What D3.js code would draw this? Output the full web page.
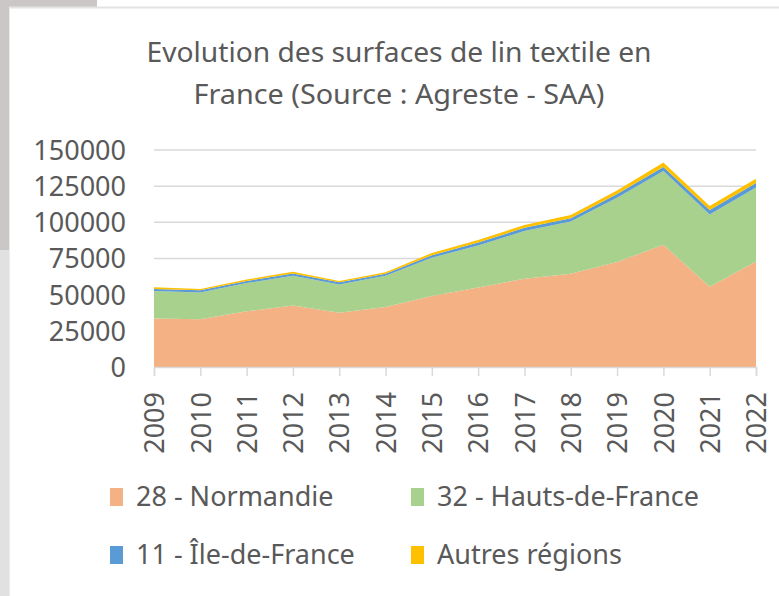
<!DOCTYPE html>
<html>
<head>
<meta charset="utf-8">
<script src="https://cdn.jsdelivr.net/npm/d3@7"></script>
<style>
  body { margin: 0; background: #fff; }
  svg { display: block; }
  text { font-family: "Noto Sans", "Open Sans", sans-serif; fill: #595959; }
</style>
</head>
<body>
<div id="chart"></div>
<script>
// surfaces de lin textile (ha)
var years = [2009, 2010, 2011, 2012, 2013, 2014, 2015, 2016, 2017, 2018, 2019, 2020, 2021, 2022];
var normandie = [33500, 33000, 38500, 42500, 37500, 41500, 49000, 55000, 61000, 64500, 72500, 84500, 55500, 73000];
var hautsDeFrance = [19000, 18500, 19500, 20500, 19500, 21500, 26500, 29000, 33000, 36000, 44500, 51000, 50000, 51000];
var ileDeFrance = [1500, 1500, 1500, 1700, 1500, 1500, 1800, 2000, 2200, 2300, 2500, 2800, 3000, 3200];
var autres = [1200, 1000, 1000, 1200, 1000, 1000, 1500, 1800, 2000, 2200, 2500, 3000, 2800, 3000];
var yTicks = [0, 25000, 50000, 75000, 100000, 125000, 150000];
var seriesNames = ["28 - Normandie", "32 - Hauts-de-France", "11 - Île-de-France", "Autres régions"];
var colors = ["#F4B183", "#A9D18E", "#5B9BD5", "#FFC000"];
var titleLines = ["Evolution des surfaces de lin textile en", "France (Source : Agreste - SAA)"];

var W = 779, H = 596;
var margin = {top: 150, right: 23, bottom: 229, left: 154};
var width = W - margin.left - margin.right,
    height = H - margin.top - margin.bottom;

var svg = d3.select("#chart").append("svg")
    .attr("width", W)
    .attr("height", H);

// bits of the screenshot frame round the chart
svg.append("rect").attr("x", 0).attr("y", 0).attr("width", 9).attr("height", 250).attr("fill", "#cbc7c7");
svg.append("rect").attr("x", 0).attr("y", 250).attr("width", 9).attr("height", H - 250).attr("fill", "#e2e1e1");
svg.append("rect").attr("x", 0).attr("y", 0).attr("width", 97).attr("height", 7).attr("fill", "#cbc7c7");
svg.append("line").attr("x1", 9).attr("x2", W).attr("y1", 7.5).attr("y2", 7.5).attr("stroke", "#e3e3e3").attr("stroke-width", 2);
svg.append("line").attr("x1", 9.5).attr("x2", 9.5).attr("y1", 7).attr("y2", H).attr("stroke", "#ececec").attr("stroke-width", 1);

// title
svg.selectAll(".title")
    .data(titleLines)
  .enter().append("text")
    .attr("class", "title")
    .attr("x", 399)
    .attr("y", function(d, i) { return 62 + i * 42; })
    .attr("text-anchor", "middle")
    .attr("font-size", 27)
    .attr("textLength", function(d, i) { return i == 0 ? 505 : 411; })
    .attr("lengthAdjust", "spacingAndGlyphs")
    .text(function(d) { return d; });

var g = svg.append("g")
    .attr("transform", "translate(" + margin.left + "," + margin.top + ")");

var x = d3.scalePoint()
    .domain(years)
    .range([0, width]);

var y = d3.scaleLinear()
    .domain([0, 150000])
    .range([height, 0]);

// gridlines
g.selectAll(".grid")
    .data(yTicks)
  .enter().append("line")
    .attr("x1", 0)
    .attr("x2", width)
    .attr("y1", function(d) { return y(d); })
    .attr("y2", function(d) { return y(d); })
    .attr("stroke", "#d9d9d9")
    .attr("stroke-width", 1.5);

// y axis labels
var yAxis = g.append("g")
    .attr("transform", "translate(-25,0)")
    .call(d3.axisLeft(y).tickValues(yTicks).tickFormat(d3.format("d")).tickSize(0));
yAxis.select(".domain").remove();
yAxis.selectAll("text")
    .attr("font-family", null)
    .attr("font-size", 27)
    .attr("fill", "#595959")
    .attr("dy", "0.35em");

// stacked areas
var rows = years.map(function(yr, i) {
  return {year: yr, n: normandie[i], h: hautsDeFrance[i], i: ileDeFrance[i], a: autres[i]};
});
var stack = d3.stack().keys(["n", "h", "i", "a"]);
var layers = stack(rows);

var area = d3.area()
    .x(function(d) { return x(d.data.year); })
    .y0(function(d) { return y(d[0]); })
    .y1(function(d) { return y(d[1]); });

g.selectAll(".layer")
    .data(layers)
  .enter().append("path")
    .attr("class", "layer")
    .attr("d", area)
    .attr("fill", function(d, i) { return colors[i]; });

// x axis
var xAxis = g.append("g")
    .attr("transform", "translate(0," + height + ")")
    .call(d3.axisBottom(x).tickSize(9).tickPadding(12));
xAxis.select(".domain").attr("stroke", "#d9d9d9").attr("stroke-width", 1.5);
xAxis.selectAll(".tick line").attr("stroke", "#d9d9d9").attr("stroke-width", 1.5);
xAxis.selectAll("text")
    .attr("font-family", null)
    .attr("font-size", 27)
    .attr("fill", "#595959")
    .attr("text-anchor", "end")
    .attr("transform", "rotate(-90)")
    .attr("x", -25)
    .attr("y", 0)
    .attr("dy", "0.36em");

// legend
var legendPos = [[110, 497], [411, 497], [110, 555], [411, 555]];
var legend = svg.selectAll(".legend")
    .data(seriesNames)
  .enter().append("g")
    .attr("class", "legend")
    .attr("transform", function(d, i) { return "translate(" + legendPos[i][0] + "," + legendPos[i][1] + ")"; });
legend.append("rect")
    .attr("x", 0)
    .attr("y", -9)
    .attr("width", 13)
    .attr("height", 18)
    .attr("fill", function(d, i) { return colors[i]; });
legend.append("text")
    .attr("x", 26)
    .attr("y", 0)
    .attr("dy", "0.35em")
    .attr("font-size", 27)
    .text(function(d) { return d; });
</script>
</body>
</html>
